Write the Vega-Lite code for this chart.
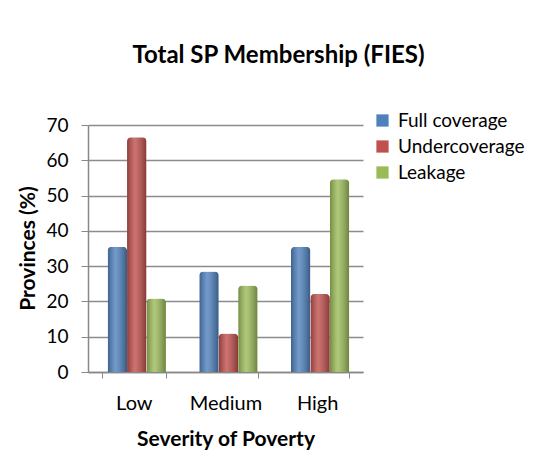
{
  "$schema": "https://vega.github.io/schema/vega-lite/v6.json",
  "autosize": {"type": "none"},
  "width": 275,
  "height": 247,
  "padding": {"left": 88, "top": 125, "right": 171, "bottom": 98},
  "background": "white",
  "config": {
    "font": "Lato",
    "view": {"stroke": null},
    "axis": {"labelFont": "Lato", "titleFont": "Lato", "labelColor": "#000", "titleColor": "#000"}
  },
  "title": {
    "text": "Total SP Membership (FIES)",
    "fontSize": 24,
    "fontWeight": "bold",
    "font": "Lato",
    "color": "#000",
    "anchor": "middle",
    "dx": 53,
    "baseline": "alphabetic",
    "offset": 24
  },
  "data": {
    "values": [
      {"severity": "Low", "series": "Full coverage", "value": 35.5},
      {"severity": "Low", "series": "Undercoverage", "value": 66.5},
      {"severity": "Low", "series": "Leakage", "value": 20.8},
      {"severity": "Medium", "series": "Full coverage", "value": 28.5},
      {"severity": "Medium", "series": "Undercoverage", "value": 10.9},
      {"severity": "Medium", "series": "Leakage", "value": 24.5},
      {"severity": "High", "series": "Full coverage", "value": 35.5},
      {"severity": "High", "series": "Undercoverage", "value": 22.1},
      {"severity": "High", "series": "Leakage", "value": 54.6}
    ]
  },
  "encoding": {
    "x": {
      "field": "severity", "type": "nominal", "sort": ["Low", "Medium", "High"],
      "scale": {"paddingInner": 0.3, "paddingOuter": 0.15},
      "axis": {
        "title": "Severity of Poverty", "titleFontSize": 21, "titleFontWeight": "bold", "titlePadding": 15,
        "labelAngle": 0, "labelFontSize": 20, "labelPadding": 15,
        "domainColor": "#888", "tickColor": "#888", "tickSize": 6, "tickBand": "extent", "domainWidth": 1.5
      }
    },
    "xOffset": {
      "field": "series", "type": "nominal", "sort": ["Full coverage", "Undercoverage", "Leakage"],
      "scale": {"paddingInner": 0, "paddingOuter": 0.15, "align": 1}
    },
    "y": {
      "field": "value", "type": "quantitative",
      "scale": {"domain": [0, 70], "nice": false},
      "axis": {
        "title": "Provinces (%)", "titleFontSize": 21, "titleFontWeight": "bold",
        "titleX": -60, "titleY": 123, "titleAngle": -90, "titleAlign": "center", "titleBaseline": "middle",
        "values": [0, 10, 20, 30, 40, 50, 60, 70],
        "labelFontSize": 19, "labelPadding": 13,
        "domainColor": "#888", "tickColor": "#888", "tickSize": 7, "domainWidth": 1.5,
        "gridColor": "#8c8c8c", "gridWidth": 1.5
      }
    }
  },
  "layer": [
    {
      "mark": {"type": "bar", "cornerRadiusTopLeft": 4, "cornerRadiusTopRight": 4},
      "encoding": {
        "color": {
          "field": "series", "type": "nominal",
          "sort": ["Full coverage", "Undercoverage", "Leakage"],
          "scale": {"domain": ["Full coverage", "Undercoverage", "Leakage"], "range": ["#4F81BD", "#C0504D", "#9BBB59"]},
          "legend": {
            "title": null, "orient": "none", "legendX": 285, "legendY": -14,
            "symbolType": "square", "symbolSize": 150, "symbolStrokeWidth": 0,
            "labelFontSize": 19, "labelFont": "Lato", "labelColor": "#000", "rowPadding": 6, "labelOffset": 6
          }
        }
      }
    },
    {
      "mark": {
        "type": "bar", "cornerRadiusTopLeft": 4, "cornerRadiusTopRight": 4,
        "color": {
          "gradient": "linear", "x1": 0, "x2": 1, "y1": 0, "y2": 0,
          "stops": [
            {"offset": 0, "color": "rgba(0,0,0,0.25)"},
            {"offset": 0.4, "color": "rgba(255,255,255,0.2)"},
            {"offset": 1, "color": "rgba(0,0,0,0.3)"}
          ]
        }
      },
      "encoding": {}
    }
  ]
}
